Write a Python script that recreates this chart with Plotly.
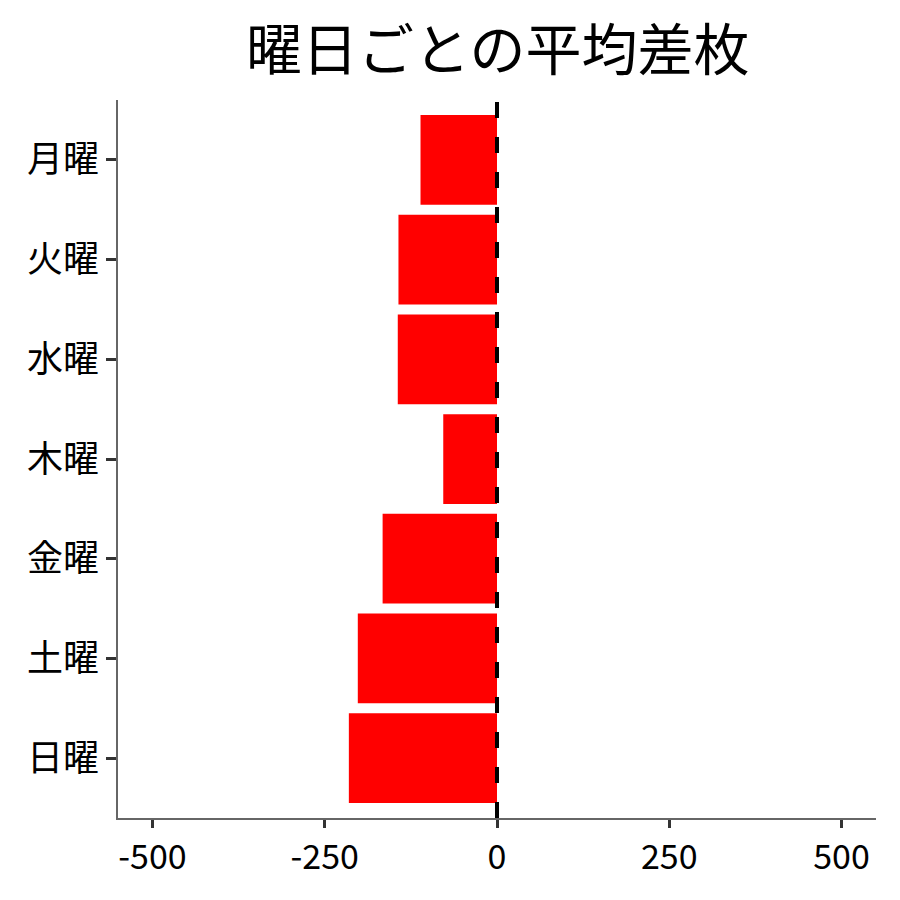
import plotly.graph_objects as go

days = ["月曜", "火曜", "水曜", "木曜", "金曜", "土曜", "日曜"]
avg_diff = [-111, -143, -144, -78, -166, -202, -215]
x_ticks = [-500, -250, 0, 250, 500]
title_text = "曜日ごとの平均差枚"

font = "Noto Sans CJK JP"

fig = go.Figure()
fig.add_trace(go.Bar(
    y=days, x=avg_diff, orientation="h",
    marker=dict(color="#ff0000", line=dict(width=0)),
    width=0.9,
))
fig.add_vline(x=0, line=dict(color="black", width=4, dash="16px,19px"))

fig.update_layout(
    width=900, height=900,
    margin=dict(l=110, r=32, t=92, b=90),
    paper_bgcolor="white", plot_bgcolor="white",
    showlegend=False,
    font=dict(family=font, size=36, color="black"),
    bargap=0.1,
)
fig.add_annotation(
    text=title_text, xref="paper", yref="paper", x=0.5, y=1.0, yshift=55,
    xanchor="center", yanchor="middle", showarrow=False,
    font=dict(family=font, size=56, color="black"),
)
fig.update_xaxes(
    range=[-550, 550], tickvals=x_ticks, ticktext=[str(v) for v in x_ticks],
    showgrid=False, zeroline=False, showline=True, linecolor="#666666", linewidth=1.5,
    ticks="outside", ticklen=8, tickwidth=3, tickcolor="#333333",
    tickfont=dict(family=font, size=34, color="black"),
)
fig.update_yaxes(
    categoryorder="array", categoryarray=days, autorange=False, range=[6.6, -0.6],
    showgrid=False, zeroline=False, showline=True, linecolor="#666666", linewidth=1.5,
    ticks="outside", ticklen=10, tickwidth=3, tickcolor="#333333",
    tickfont=dict(family=font, size=36, color="black"),
)
fig.write_html("out.html")
